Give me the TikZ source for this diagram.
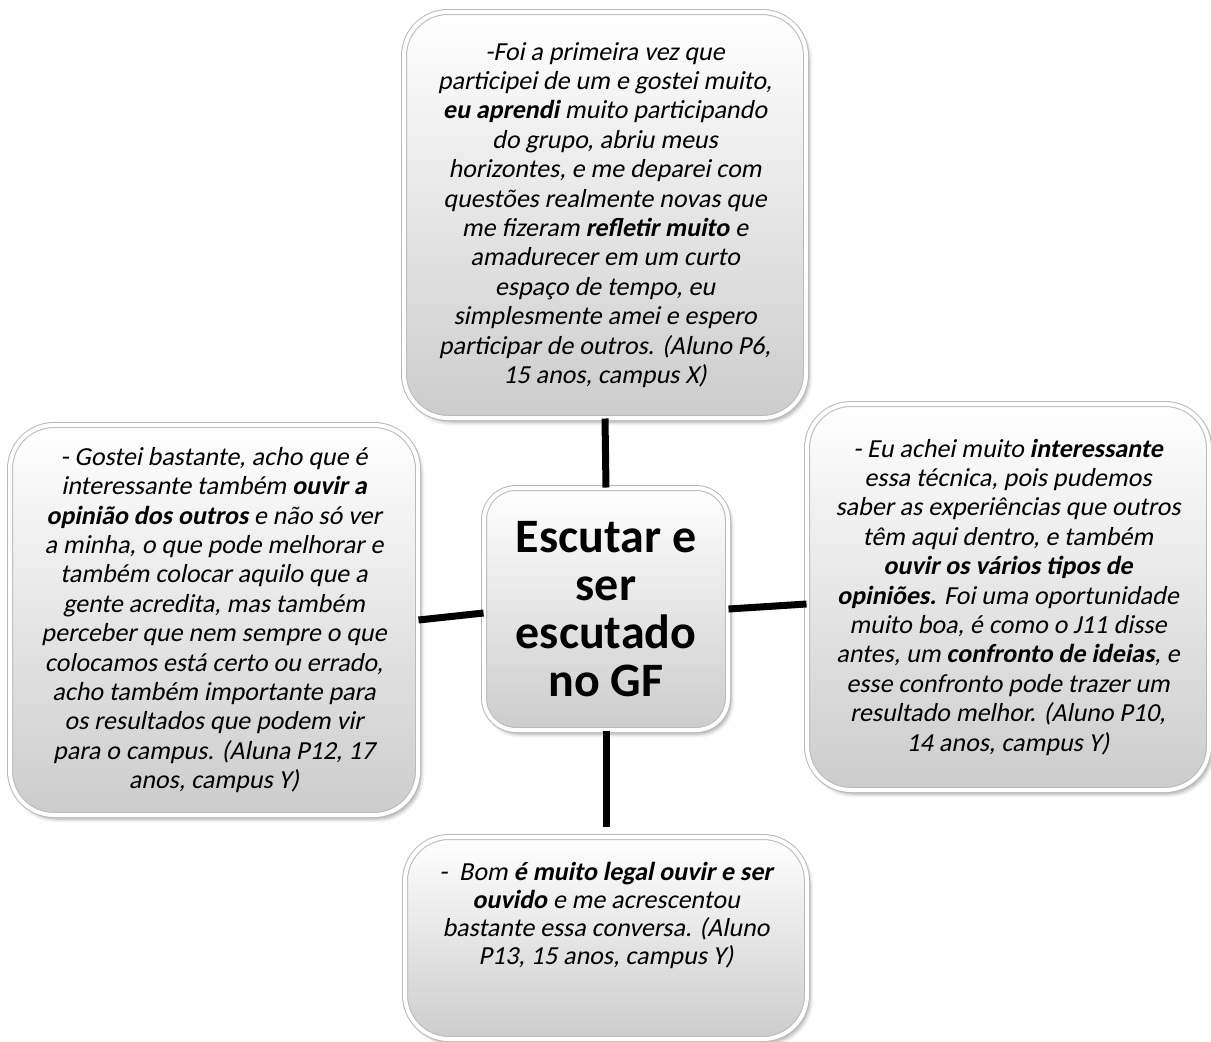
\documentclass[tikz,border=0pt]{standalone}
\usepackage{fontspec}
\setmainfont{Carlito}[ItalicFont=Carlito, ItalicFeatures={FakeSlant=0.2},
  BoldItalicFont={Carlito Bold}, BoldItalicFeatures={FakeSlant=0.2}]
\usetikzlibrary{shadows.blur}

\begin{document}
\begin{tikzpicture}[x=0.5pt, y=-0.5pt,
    box/.style={draw=gray!55, double=white, double distance=2pt, line width=0.5pt,
                rounded corners=#1, top color=white, bottom color=black!20,
                blur shadow={shadow xshift=1.5pt, shadow yshift=-2pt,
                             shadow blur steps=6, shadow opacity=35},
                align=center, inner sep=4pt},
    box/.default=22pt,
    quote/.style={box, font=\fontsize{13}{14.7}\selectfont\itshape},
    link/.style={line width=3.5pt}]
  \useasboundingbox (0,0) rectangle (1211,1041);
  %% Centre
  \node[box=16pt, minimum width=122pt, minimum height=121pt,
        font=\fontsize{24}{24}\selectfont\bfseries] (ctr) at (606,609)
    {Escutar e\\ser\\escutado\\no GF};
  %% Quotes
  \node[quote, minimum width=201pt, minimum height=203pt] (top) at (605,215)
    {-Foi a primeira vez que\\
     participei de um e gostei muito,\\
     \textbf{eu aprendi} muito participando\\
     do grupo, abriu meus\\
     horizontes, e me deparei com\\
     questões realmente novas que\\
     me fizeram \textbf{refletir muito} e\\
     amadurecer em um curto\\
     espaço de tempo, eu\\
     simplesmente amei e espero\\
     participar de outros. (Aluno P6,\\
     15 anos, campus X)};
  \node[quote, minimum width=204pt, minimum height=195pt] (lft) at (214,620)
    {- Gostei bastante, acho que é\\
     interessante também \textbf{ouvir a}\\
     \textbf{opinião dos outros} e não só ver\\
     a minha, o que pode melhorar e\\
     também colocar aquilo que a\\
     gente acredita, mas também\\
     perceber que nem sempre o que\\
     colocamos está certo ou errado,\\
     acho também importante para\\
     os resultados que podem vir\\
     para o campus. (Aluna P12, 17\\
     anos, campus Y)};
  \node[quote, minimum width=201pt, minimum height=193pt] (rgt) at (1008,597)
    {- Eu achei muito \textbf{interessante}\\
     essa técnica, pois pudemos\\
     saber as experiências que outros\\
     têm aqui dentro, e também\\
     \textbf{ouvir os vários tipos de}\\
     \textbf{opiniões.} Foi uma oportunidade\\
     muito boa, é como o J11 disse\\
     antes, um \textbf{confronto de ideias}, e\\
     esse confronto pode trazer um\\
     resultado melhor. (Aluno P10,\\
     14 anos, campus Y)};
  \node[quote, minimum width=201pt, minimum height=101pt] (bot) at (606,938)
    {\parbox[c][88pt][t]{190pt}{\centering\fontsize{13}{14}\selectfont
     \vspace*{6pt}-\ \ Bom \textbf{é muito legal ouvir e ser}\\
     \textbf{ouvido} e me acrescentou\\
     bastante essa conversa. (Aluno\\
     P13, 15 anos, campus Y)}};
  %% Links
  \draw[link] (top.south) -- (ctr.north);
  \draw[link] (lft.east) -- ([yshift=-2pt]ctr.west);
  \draw[link] (ctr.east) -- ([yshift=-3.5pt]rgt.west);
  \draw[link, shorten >=5pt] (ctr.south) -- (bot.north);
\end{tikzpicture}
\end{document}
